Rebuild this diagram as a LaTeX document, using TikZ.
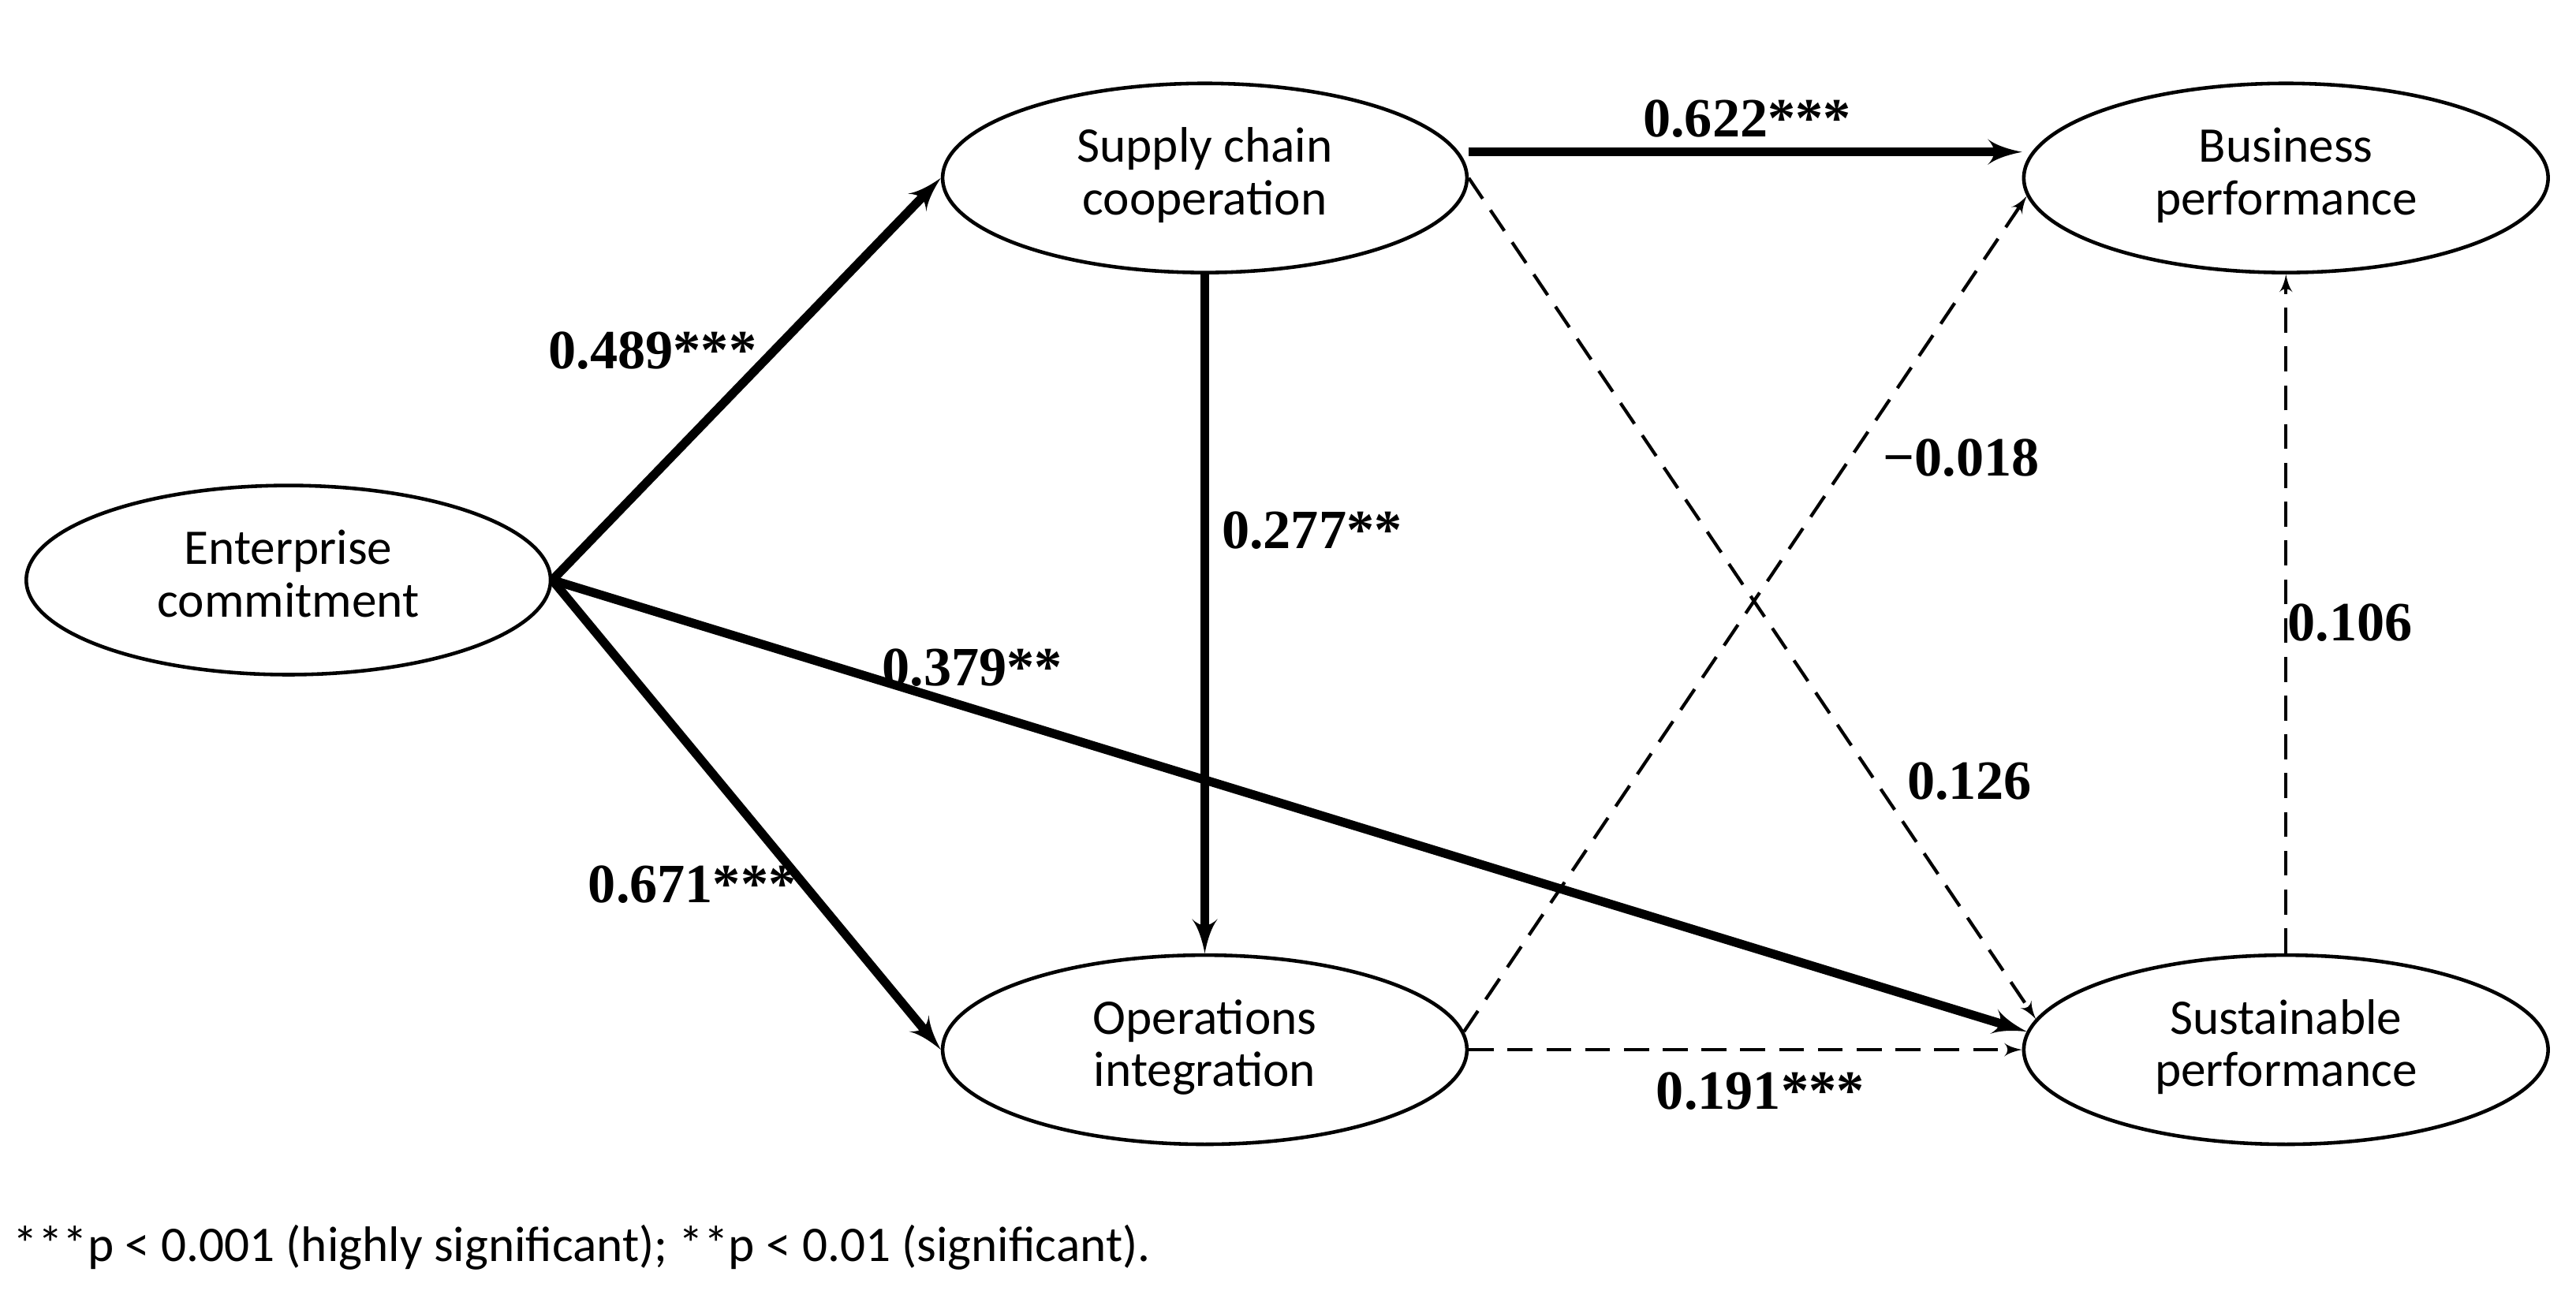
\documentclass[tikz,border=0pt]{standalone}
\usepackage{fontspec}
\setmainfont{Liberation Serif}
\newfontfamily\nodefont{Carlito}
\usetikzlibrary{arrows,shapes.geometric}
\newcommand{\twolines}[2]{\raisebox{0.26cm}{\begin{tabular}{@{}c@{}}#1\\#2\end{tabular}}}
\tikzstyle{construct}=[draw, ellipse, line width=1.3pt, minimum width=6.65cm, minimum height=2.4cm, font=\nodefont\fontsize{18}{19}\selectfont]
\tikzstyle{strong}=[->, line width=3.2pt]
\tikzstyle{weak}=[->, line width=1.2pt, dashed, dash pattern=on 9pt off 5pt]
\tikzstyle{coef}=[font=\bfseries\fontsize{20}{22}\selectfont]
\begin{document}
\begin{tikzpicture}[x=0.0209cm,y=-0.0209cm,>=latex']
		    \useasboundingbox (0,0) rectangle (1563,790);
		    \node [construct] (ec) at (175,352) {\twolines{Enterprise}{commitment}};
		    \node [construct] (sc) at (731,108) {\twolines{Supply chain}{cooperation}};
		    \node [construct] (bp) at (1387,108) {\twolines{Business}{performance}};
		    \node [construct] (oi) at (731,637) {\twolines{Operations}{integration}};
		    \node [construct] (sp) at (1387,637) {\twolines{Sustainable}{performance}};
		    \draw[strong] (ec.east) -- (sc.west);
		    \draw[strong] (ec.east) -- (oi.west);
		    \draw[strong] (ec.east) -- (sp.176);
		    \draw[strong] (sc.south) -- (oi.north);
		    \draw[strong] ([yshift=0.33cm]sc.east) -- ([yshift=0.33cm]bp.west);
		    \draw[weak] (sc.east) -- (sp.173);
		    \draw[weak] (oi.4) -- (bp.184);
		    \draw[weak] (oi.east) -- (sp.west);
		    \draw[weak] (sp.north) -- (bp.south);
		    \node [coef] (c1) at (1060,72) {0.622***};
		    \node [coef] (c2) at (396,213) {0.489***};
		    \node [coef] (c3) at (796,322) {0.277**};
		    \node [coef] (c4) at (1190,278) {−0.018};
		    \node [coef] (c5) at (1426,378) {0.106};
		    \node [coef] (c6) at (590,405) {0.379**};
		    \node [coef] (c7) at (1195,474) {0.126};
		    \node [coef] (c8) at (420,537) {0.671***};
		    \node [coef] (c9) at (1068,662) {0.191***};
		    \node [anchor=west, font=\nodefont\fontsize{18}{20}\selectfont] (note) at (2,757) {***p < 0.001 (highly significant); **p < 0.01 (significant).};
		\end{tikzpicture}
\end{document}
